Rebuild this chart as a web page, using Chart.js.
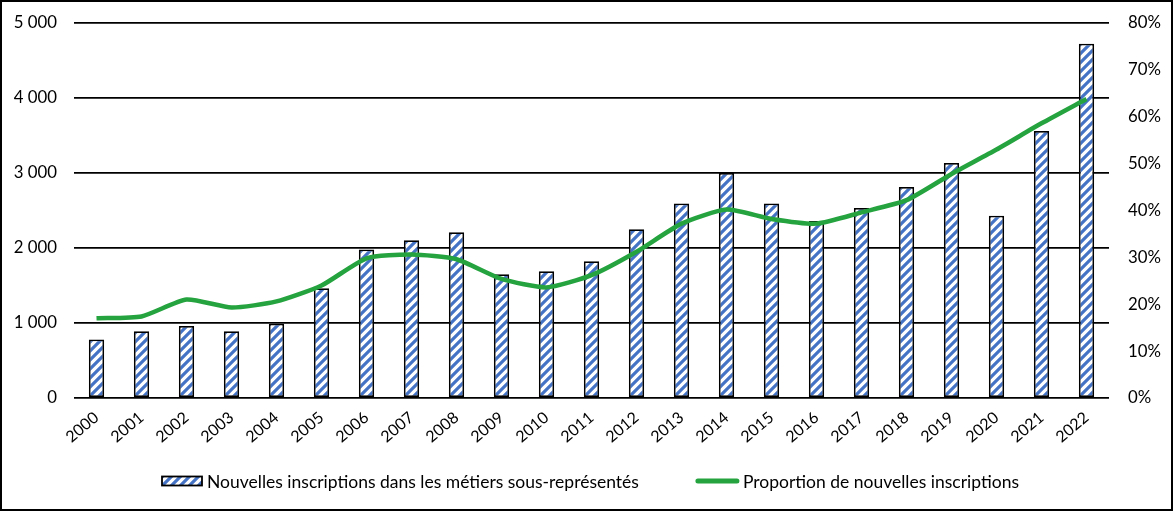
<!DOCTYPE html>
<html>
<head>
<meta charset="utf-8">
<script src="https://cdn.jsdelivr.net/npm/chart.js@4"></script>
<style>
  html, body { margin: 0; padding: 0; background: #fff; }
  #wrap { width: 1174px; height: 512px; position: relative; }
</style>
</head>
<body>
<div id="wrap"><canvas id="myChart" width="1174" height="512"></canvas></div>
<script>
// Data
var years = ['2000', '2001', '2002', '2003', '2004', '2005', '2006', '2007', '2008', '2009', '2010', '2011',
             '2012', '2013', '2014', '2015', '2016', '2017', '2018', '2019', '2020', '2021', '2022'];
var inscriptions = [780, 890, 960, 890, 990, 1465, 1980, 2105, 2210, 1650, 1690, 1825,
                    2250, 2595, 3000, 2595, 2360, 2535, 2815, 3135, 2430, 3560, 4725];
var proportion = [0.170, 0.174, 0.210, 0.193, 0.206, 0.240, 0.298, 0.306, 0.296, 0.254, 0.236, 0.262,
                  0.312, 0.372, 0.402, 0.382, 0.372, 0.396, 0.422, 0.478, 0.530, 0.586, 0.638];
var leftTicks = [0, 1000, 2000, 3000, 4000, 5000];
var rightTicks = [0, 0.1, 0.2, 0.3, 0.4, 0.5, 0.6, 0.7, 0.8];

var barLabel = 'Nouvelles inscriptions dans les métiers sous-représentés';
var lineLabel = 'Proportion de nouvelles inscriptions';
var green = 'rgb(36, 163, 62)';
var blue = 'rgb(68, 114, 196)';
var fontFamily = 'Lato, Carlito, "Open Sans", sans-serif';

// diagonal stripe pattern for the bars
function makeStripes() {
    var size = 9;
    var c = document.createElement('canvas');
    c.width = size; c.height = size;
    var g = c.getContext('2d');
    g.fillStyle = '#fff';
    g.fillRect(0, 0, size, size);
    g.strokeStyle = blue;
    g.lineWidth = 3.2;
    g.beginPath();
    g.moveTo(-2, size + 2); g.lineTo(size + 2, -2);
    g.moveTo(-2, 2); g.lineTo(2, -2);
    g.moveTo(size - 2, size + 2); g.lineTo(size + 2, size - 2);
    g.stroke();
    return g.createPattern(c, 'repeat');
}
var stripes = makeStripes();

function formatThousands(v) {
    return String(v).replace(/\B(?=(\d{3})+(?!\d))/g, ' ');
}

// white background, frame around the picture and the legend at the bottom
var extras = {
    id: 'extras',
    beforeDraw: function(chart) {
        var ctx = chart.ctx;
        ctx.save();
        ctx.fillStyle = '#fff';
        ctx.fillRect(0, 0, chart.width, chart.height);
        ctx.restore();
    },
    afterDraw: function(chart) {
        var ctx = chart.ctx;
        ctx.save();
        ctx.strokeStyle = '#000';
        ctx.lineWidth = 2;
        ctx.strokeRect(1, 1, chart.width - 3, chart.height - 3);

        // legend
        ctx.font = '17.5px ' + fontFamily;
        ctx.textBaseline = 'middle';
        ctx.fillStyle = '#000';
        var y = 481;
        var w1 = ctx.measureText(barLabel).width;
        var w2 = ctx.measureText(lineLabel).width;
        var total = 40 + 5 + w1 + 57 + 43 + 4 + w2;
        var x = Math.round((chart.width - total) / 2) + 3;

        ctx.fillStyle = stripes;
        ctx.fillRect(x, y - 4.5, 40, 9);
        ctx.lineWidth = 1.8;
        ctx.strokeStyle = '#000';
        ctx.strokeRect(x, y - 4.5, 40, 9);
        ctx.fillStyle = '#000';
        ctx.fillText(barLabel, x + 45, y + 1);

        x += 40 + 5 + w1 + 57;
        ctx.strokeStyle = green;
        ctx.lineWidth = 5;
        ctx.lineCap = 'round';
        ctx.beginPath();
        ctx.moveTo(x + 2, y);
        ctx.lineTo(x + 41, y);
        ctx.stroke();
        ctx.fillText(lineLabel, x + 47, y + 1);
        ctx.restore();
    }
};

Chart.defaults.font.family = fontFamily;
Chart.defaults.color = '#000';

var ctx = document.getElementById('myChart').getContext('2d');
var myChart = new Chart(ctx, {
    type: 'bar',
    data: {
        labels: years,
        datasets: [{
            type: 'line',
            label: lineLabel,
            data: proportion,
            yAxisID: 'y2',
            borderColor: green,
            backgroundColor: green,
            borderWidth: 4.5,
            pointRadius: 0,
            tension: 0.2,
            order: 0
        }, {
            type: 'bar',
            label: barLabel,
            data: inscriptions,
            yAxisID: 'y',
            backgroundColor: stripes,
            borderColor: '#000',
            borderWidth: 1.8,
            borderSkipped: false,
            barPercentage: 0.34,
            categoryPercentage: 1,
            order: 1
        }]
    },
    options: {
        responsive: false,
        animation: false,
        layout: { padding: { top: 23, left: 0, right: 0, bottom: 67 } },
        plugins: {
            tooltip: { enabled: false },
            legend: { display: false }
        },
        scales: {
            x: {
                grid: { display: false },
                border: { display: false },
                ticks: {
                    minRotation: 40,
                    maxRotation: 40,
                    padding: 2,
                    font: { size: 16 }
                },
                afterFit: function(scale) {
                    scale.height = 47;
                    scale.paddingLeft = 0;
                    scale.paddingRight = 0;
                }
            },
            y: {
                position: 'left',
                min: 0,
                max: 5000,
                afterBuildTicks: function(scale) {
                    scale.ticks = leftTicks.map(function(v) { return { value: v }; });
                },
                ticks: {
                    padding: 17,
                    font: { size: 16.8 },
                    callback: function(v) { return formatThousands(v); }
                },
                grid: { color: '#000', lineWidth: 1.8, drawTicks: false },
                border: { display: false },
                afterFit: function(scale) {
                    scale.width = 74;
                    scale.paddingTop = 0;
                    scale.paddingBottom = 0;
                }
            },
            y2: {
                position: 'right',
                min: 0,
                max: 0.8,
                afterBuildTicks: function(scale) {
                    scale.ticks = rightTicks.map(function(v) { return { value: v }; });
                },
                ticks: {
                    padding: 19,
                    font: { size: 16.8 },
                    callback: function(v) { return Math.round(v * 100) + '%'; }
                },
                grid: { display: false, drawTicks: false },
                border: { display: false },
                afterFit: function(scale) {
                    scale.width = 65;
                    scale.paddingTop = 0;
                    scale.paddingBottom = 0;
                }
            }
        }
    },
    plugins: [extras]
});
</script>
</body>
</html>
